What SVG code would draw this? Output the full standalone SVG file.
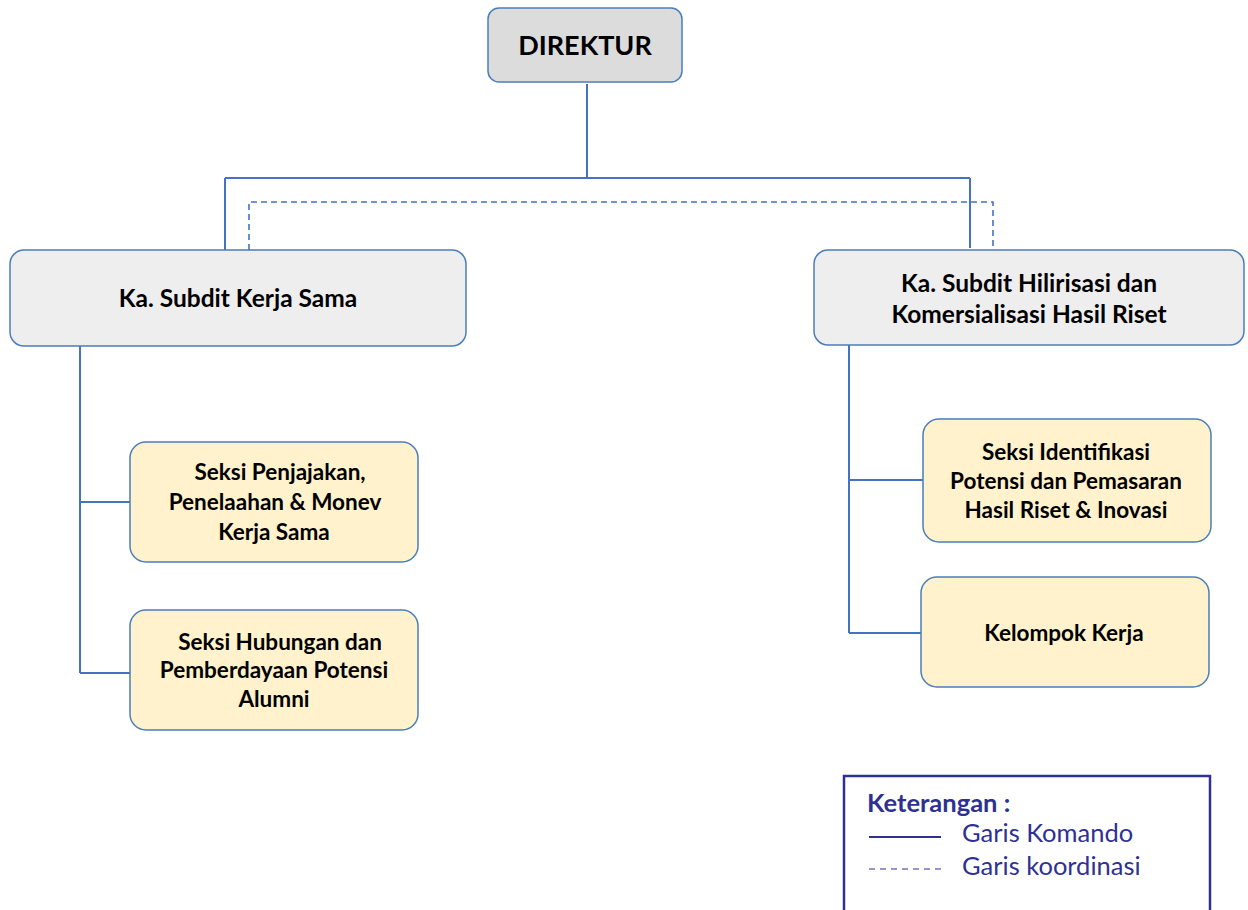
<svg xmlns="http://www.w3.org/2000/svg" width="1248" height="910" viewBox="0 0 1248 910">
<style>
.box{stroke:#4a7ebb;stroke-width:1.5}
.gray{fill:#dcdcdc}
.lgray{fill:#eeeeee}
.yel{fill:#fff2cc}
.t{font-family:Lato,"Liberation Sans",sans-serif;font-weight:bold;fill:#000;text-anchor:middle}
.s{font-size:22.5px}
.h{font-size:24.5px}
.ln{stroke:#4472c4;stroke-width:2;fill:none}
.dash{stroke:#4472c4;stroke-width:1.6;fill:none;stroke-dasharray:6 4}
.leg{font-family:Lato,"Liberation Sans",sans-serif;fill:#2e3192;font-size:25.5px}
</style>
<rect width="1248" height="910" fill="#fff"/>
<g id="connectors">
<path class="ln" d="M587 84V178M225 178H970M225 178V250M970 178V248"/>
<path class="dash" d="M249 250V202H993V249"/>
<path class="ln" d="M80 346V673M80 502H130M80 673H130"/>
<path class="ln" d="M849 345V633M849 480H923M849 633H921"/>
</g>
<g id="direktur">
<rect class="box gray" x="488" y="8" width="194" height="74" rx="11"/>
<text class="t" x="585" y="55" font-size="27">DIREKTUR</text>
</g>
<g id="subdit-kerjasama">
<rect class="box lgray" x="10" y="250" width="456" height="96" rx="14"/>
<text class="t h" x="238" y="307">Ka. Subdit Kerja Sama</text>
</g>
<g id="subdit-hilirisasi">
<rect class="box lgray" x="814" y="250" width="430" height="95" rx="14"/>
<text class="t h" x="1029" y="292">Ka. Subdit Hilirisasi dan</text>
<text class="t h" x="1029" y="323">Komersialisasi Hasil Riset</text>
</g>
<g id="seksi-penjajakan">
<rect class="box yel" x="130" y="442" width="288" height="120" rx="16"/>
<text class="t s" x="280" y="480">Seksi Penjajakan,</text>
<text class="t s" x="275" y="510">Penelaahan &amp; Monev</text>
<text class="t s" x="274" y="540">Kerja Sama</text>
</g>
<g id="seksi-hubungan">
<rect class="box yel" x="130" y="610" width="288" height="120" rx="16"/>
<text class="t s" x="280" y="650">Seksi Hubungan dan</text>
<text class="t s" x="274" y="678">Pemberdayaan Potensi</text>
<text class="t s" x="274" y="707">Alumni</text>
</g>
<g id="seksi-identifikasi">
<rect class="box yel" x="923" y="419" width="288" height="123" rx="16"/>
<text class="t s" x="1066" y="460">Seksi Identifikasi</text>
<text class="t s" x="1066" y="489">Potensi dan Pemasaran</text>
<text class="t s" x="1066" y="518">Hasil Riset &amp; Inovasi</text>
</g>
<g id="kelompok-kerja">
<rect class="box yel" x="921" y="577" width="288" height="110" rx="16"/>
<text class="t s" x="1064" y="641">Kelompok Kerja</text>
</g>
<g id="legend">
<path d="M844 912V776H1210V912" fill="none" stroke="#2e3192" stroke-width="2.5"/>
<text class="leg" x="867" y="812" font-weight="bold">Keterangan :</text>
<line x1="869" y1="837" x2="941" y2="837" stroke="#2e3192" stroke-width="2"/>
<text class="leg" x="962" y="842">Garis Komando</text>
<line x1="869" y1="869" x2="941" y2="869" stroke="#2e3192" stroke-width="1.2" stroke-dasharray="6 5"/>
<text class="leg" x="962" y="875">Garis koordinasi</text>
</g>
</svg>
